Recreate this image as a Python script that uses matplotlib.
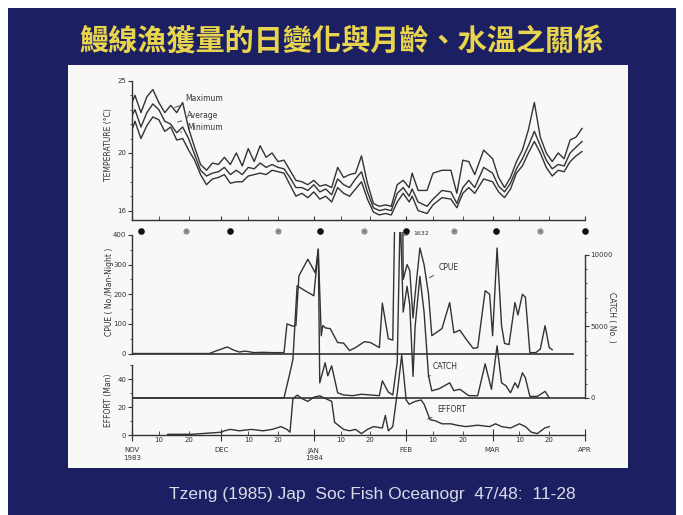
import numpy as np
import matplotlib.pyplot as plt
from matplotlib.patches import Rectangle

W, H = 683, 515

# day 0 = 1 Nov 1983, day 152 = 1 Apr 1984
temp_day = [0, 1, 3, 5, 7, 9, 11, 13, 15, 17,
            19, 21, 23, 25, 27, 29, 31, 33, 35, 37,
            39, 41, 43, 45, 47, 49, 51, 53, 55, 57,
            59, 61, 63, 65, 67, 69, 71, 73, 75, 77,
            79, 81, 83, 85, 87, 89, 91, 93, 94, 96,
            99, 101, 104, 107, 109, 111, 113, 115, 118, 121,
            123, 125, 127, 129, 131, 133, 135, 137, 139, 141,
            143, 145, 147, 149, 151]
t_max = [23.5, 24.0, 22.8, 23.9, 24.4, 23.5, 22.8, 23.3, 22.8, 23.5,
         21.7, 20.4, 19.2, 18.8, 19.3, 19.2, 19.7, 19.2, 20.0, 19.1,
         20.3, 19.4, 20.5, 19.7, 20.0, 19.4, 19.5, 18.8, 18.1, 18.0,
         17.8, 18.1, 17.7, 17.8, 17.6, 19.0, 18.3, 18.5, 18.6, 19.8,
         17.9, 16.5, 16.3, 16.4, 16.3, 17.8, 18.1, 17.6, 18.6, 17.4,
         17.4, 18.6, 18.8, 18.8, 17.2, 19.5, 19.4, 18.5, 20.2, 19.6,
         18.3, 17.6, 18.3, 19.4, 20.2, 21.6, 23.5, 21.1, 20.0, 19.4,
         20.0, 19.6, 20.9, 21.1, 21.7]
t_avg = [22.6, 23.0, 21.8, 22.8, 23.4, 23.0, 22.2, 22.0, 21.4, 21.8,
         21.0, 19.9, 18.8, 18.4, 18.6, 18.7, 19.0, 18.5, 18.8, 18.5,
         19.0, 18.9, 19.3, 19.0, 19.2, 19.0, 18.9, 18.3, 17.6, 17.6,
         17.4, 17.8, 17.3, 17.5, 17.1, 18.2, 17.8, 17.6, 18.2, 18.7,
         17.3, 16.2, 16.0, 16.1, 16.0, 17.2, 17.6, 17.0, 17.5, 16.6,
         16.3, 16.8, 17.4, 17.3, 16.5, 17.6, 18.1, 17.6, 19.0, 18.6,
         17.7, 17.3, 17.9, 18.9, 19.6, 20.5, 21.5, 20.5, 19.5, 18.9,
         19.2, 19.1, 20.0, 20.4, 20.8]
t_min = [21.6, 22.2, 21.0, 21.9, 22.5, 22.3, 21.5, 21.8, 20.9, 21.0,
         20.2, 19.5, 18.5, 17.8, 18.2, 18.3, 18.5, 17.9, 18.0, 18.0,
         18.4, 18.5, 18.6, 18.5, 18.8, 18.7, 18.6, 17.8, 17.0, 17.2,
         16.9, 17.3, 16.8, 17.0, 16.6, 17.6, 17.2, 17.0, 17.5, 18.0,
         16.8, 15.9, 15.7, 15.8, 15.7, 16.6, 17.2, 16.6, 17.0, 16.0,
         15.8, 16.4, 16.9, 16.8, 16.2, 17.2, 17.6, 17.2, 18.2, 18.0,
         17.3, 16.9, 17.5, 18.6, 19.1, 20.0, 20.8, 20.0, 19.0, 18.4,
         18.8, 18.7, 19.4, 19.8, 20.1]

cpue_day = [0, 26, 28, 30, 32, 34, 36, 38, 41, 44,
            47, 51, 52, 54, 55, 56, 59, 61.5, 62.5, 63.5,
            64, 65, 66.5, 69, 71, 73, 75, 78, 80, 83,
            84, 86, 87.5, 90, 91, 92.3, 93.2, 94.3, 95, 96.6,
            98, 99.5, 100.6, 102, 104, 106.6, 108, 110, 112, 114.5,
            116, 118.5, 120, 121, 122.5, 124, 125, 126.5, 128.5, 129.5,
            131, 132, 133.5, 135.5, 137, 138.6, 140, 141]
cpue = [0, 0, 8, 15, 22, 12, 5, 8, 3, 4,
        3, 3, 100, 92, 95, 262, 318, 272, 352, 60,
        94, 86, 84, 37, 35, 10, 20, 40, 37, 20,
        170, 50, 45, 1632, 250, 300, 280, 120, 200, 356,
        300, 200, 60, 70, 84, 172, 70, 79, 50, 17,
        20, 212, 200, 60, 356, 94, 34, 30, 172, 130,
        200, 190, 3, 3, 15, 94, 20, 13]

catch_day = [0, 51, 53, 54, 55.4, 58, 61, 62.5, 63, 64.8,
             65.7, 67, 69, 71, 74, 77, 80, 83, 84, 86,
             87.5, 89, 90, 91, 92.3, 93.2, 94.3, 95, 96.6, 98,
             99.5, 100.6, 103, 106.6, 108, 110, 113, 116, 118.5, 120.6,
             122.5, 124, 125.5, 127, 128.5, 129.5, 131, 132, 133.5, 136,
             138.6, 140]
catch = [0, 0, 1750, 2700, 7840, 7500, 7140, 10400, 1050, 2450,
         1540, 2240, 350, 200, 150, 250, 200, 150, 1190, 400,
         200, 2500, 13000, 6000, 7800, 6500, 1500, 5000, 8500, 6000,
         1540, 490, 630, 1050, 500, 600, 150, 150, 2380, 600,
         3640, 1050, 840, 350, 1050, 700, 1750, 1400, 100, 100,
         450, 0]

effort_day = [12, 20, 30, 31, 33, 36, 40, 44, 47, 50,
              52, 53, 54, 55.5, 57, 59, 61, 63, 65, 67,
              68, 71, 73, 75, 77, 79, 81, 84, 85, 86,
              87.5, 89, 90.5, 92, 93, 95, 97, 98, 100, 102,
              104, 107, 109, 112, 116, 120, 122, 124, 127, 130,
              132, 134, 136, 138.5, 140]
effort = [0.5, 0.5, 2, 3, 4, 3, 4, 3, 4, 6,
          4, 2, 26, 28.5, 26, 24, 27, 28, 26, 24,
          9, 4, 3, 4, 1, 4, 6, 5, 14, 3,
          6, 30, 57, 25, 22, 24, 25, 22, 11, 10,
          8, 8, 7, 6, 7, 6, 8, 6, 5, 8,
          6, 2, 1, 5, 6]

new_moon = [3, 33, 63, 92, 122, 152]
full_moon = [18, 49, 78, 108, 137]

month_day = [0, 30, 61, 92, 121, 152]
month_lab = ['NOV\n1983', 'DEC', 'JAN\n1984', 'FEB', 'MAR', 'APR']
mid_day = [9, 19, 39, 49, 70, 80, 101, 111, 130, 140]
mid_lab = ['10', '20'] * 5

title = '鰻線漁獲量的日變化與月齡、水溫之關係'
source = 'Tzeng (1985) Jap  Soc Fish Oceanogr  47/48:  11-28'

ink = '#333333'
fs = 5

fig = plt.figure(figsize=(W / 100, H / 100), dpi=100)
fig.patch.set_facecolor('white')


def fx(x):
    return x / W


def fy(y):
    return 1 - y / H


def px_axes(x0, y0, x1, y1):
    return fig.add_axes([fx(x0), fy(y1), (x1 - x0) / W, (y1 - y0) / H])


# slide background + white figure card
fig.patches.append(Rectangle((fx(8), 0), 668 / W, fy(8), transform=fig.transFigure,
                             facecolor='#1c2062', edgecolor='none', zorder=-3))
fig.patches.append(Rectangle((fx(68), fy(468)), (628 - 68) / W, (468 - 65) / H,
                             transform=fig.transFigure, facecolor='#f8f8f6',
                             edgecolor='none', zorder=-2))

fig.text(fx(342), fy(42), title, ha='center', va='center', fontsize=21,
         color='#e8d44d', fontweight='bold', family=['Noto Sans CJK TC', 'DejaVu Sans'])
fig.text(fx(372), fy(495), source, ha='center', va='center', fontsize=12.5,
         color='#d9dbe8', family=['Liberation Sans', 'DejaVu Sans'])

# temperature panel
ax_t = px_axes(132, 78, 585, 220)
ax_t.set_facecolor('none')
for lab, y in (('Maximum', t_max), ('Average', t_avg), ('Minimum', t_min)):
    ax_t.plot(temp_day, y, color=ink, lw=1.0)
ax_t.set_xlim(0, 152)
ax_t.set_ylim(15.35, 25.2)
ax_t.spines[['top', 'right']].set_visible(False)
ax_t.spines['left'].set_bounds(15.35, 25)
for s in ax_t.spines.values():
    s.set_color(ink)
    s.set_linewidth(1.0)
ax_t.set_yticks([16, 20, 25])
ax_t.set_yticks(range(17, 25), minor=True)
ax_t.set_xticks(month_day)
ax_t.set_xticks(mid_day, minor=True)
ax_t.tick_params(axis='x', which='both', direction='in', length=3, labelbottom=False, color=ink)
ax_t.tick_params(axis='y', which='major', length=3, labelsize=fs, pad=1, colors=ink)
ax_t.tick_params(axis='y', which='minor', length=1.5, color=ink)

lead = dict(arrowstyle='-', color=ink, lw=0.6)
ax_t.annotate('Maximum', xy=(13.4, 23.1), xytext=(18, 23.8), fontsize=5.5,
              color=ink, va='center', arrowprops=lead)
ax_t.annotate('Average', xy=(14.4, 22.1), xytext=(18.5, 22.6), fontsize=5.5,
              color=ink, va='center', arrowprops=lead)
ax_t.annotate('Minimum', xy=(15.4, 21.4), xytext=(18.5, 21.8), fontsize=5.5,
              color=ink, va='center', arrowprops=lead)
fig.text(fx(109), fy(145), 'TEMPERATURE (°C)', rotation=90, ha='center', va='center',
         fontsize=5.5, color=ink)

# moon phase row
ax_m = px_axes(132, 225, 585, 237)
ax_m.set_xlim(0, 152)
ax_m.set_ylim(-1, 1)
ax_m.axis('off')
ax_m.scatter(new_moon, [0] * len(new_moon), s=14, color='#111111', clip_on=False)
ax_m.scatter(full_moon, [0] * len(full_moon), s=12, facecolor='white',
             edgecolor='#777777', lw=0.8, clip_on=False)
ax_m.scatter(full_moon, [0] * len(full_moon), s=1.5, color='#777777', clip_on=False)

# catch / cpue / effort panel
ax_e = px_axes(132, 232, 585, 435)
ax_e.set_facecolor('none')
ax_e.plot(effort_day, effort, color=ink, lw=1.0)
ax_e.set_xlim(0, 152)
ax_e.set_ylim(0, 145)
ax_e.spines[['top', 'right']].set_visible(False)
ax_e.spines['left'].set_bounds(0, 50)
ax_e.set_yticks([0, 20, 40])
ax_e.set_yticks([10, 30, 50], minor=True)
ax_e.set_xticks(month_day, labels=month_lab)
ax_e.set_xticks(mid_day, labels=mid_lab, minor=True)
ax_e.tick_params(axis='x', which='major', direction='inout', length=8, pad=5,
                 labelsize=fs, color=ink, labelcolor=ink)
ax_e.tick_params(axis='x', which='minor', direction='in', length=3, pad=1.5,
                 labelsize=fs, color=ink, labelcolor=ink)
ax_e.tick_params(axis='y', which='major', length=3, pad=1, labelsize=fs, colors=ink)
ax_e.tick_params(axis='y', which='minor', length=1.5, color=ink)

ax_cp = ax_e.twinx()
ax_cp.plot(cpue_day, cpue, color=ink, lw=1.0)
ax_cp.axhline(0, xmax=148 / 152, color=ink, lw=1.2)
ax_cp.set_ylim(-275, 410)
ax_cp.yaxis.tick_left()
ax_cp.spines[['top', 'right', 'bottom']].set_visible(False)
ax_cp.spines['left'].set_visible(True)
ax_cp.spines['left'].set_bounds(0, 400)
ax_cp.set_yticks([0, 100, 200, 300, 400])
ax_cp.set_yticks(range(50, 400, 100), minor=True)
ax_cp.tick_params(axis='y', which='major', length=3, pad=1, labelsize=fs, colors=ink)
ax_cp.tick_params(axis='y', which='minor', length=1.5, color=ink)

ax_ca = ax_e.twinx()
ax_ca.plot(catch_day, catch, color=ink, lw=1.0)
ax_ca.axhline(0, color=ink, lw=1.2)
ax_ca.set_ylim(-2600, 11600)
ax_ca.spines[['top', 'left', 'bottom']].set_visible(False)
ax_ca.spines['right'].set_bounds(0, 10000)
ax_ca.set_yticks([0, 5000, 10000])
ax_ca.set_yticks([v for v in range(1000, 10000, 1000) if v != 5000], minor=True)
ax_ca.tick_params(axis='y', which='major', length=3, pad=1, labelsize=fs, colors=ink)
ax_ca.tick_params(axis='y', which='minor', length=1.5, color=ink)

for a in (ax_e, ax_cp, ax_ca):
    for s in a.spines.values():
        s.set_color(ink)
        s.set_linewidth(1.0)

ax_cp.annotate('1632', xy=(90, 398), xytext=(94.5, 405), fontsize=4.5, color=ink,
               va='center', arrowprops=lead, annotation_clip=False)
ax_cp.annotate('CPUE', xy=(99, 252), xytext=(103, 289), fontsize=5.5, color=ink,
               va='center', arrowprops=lead)
ax_ca.annotate('CATCH', xy=(99.3, 1470), xytext=(101, 2170), fontsize=5.5, color=ink,
               va='center', arrowprops=lead)
ax_e.annotate('EFFORT', xy=(98.3, 10.7), xytext=(102.5, 17.9), fontsize=5.5, color=ink,
              va='center', arrowprops=lead)

fig.text(fx(109), fy(292), 'CPUE ( No./Man-Night )', rotation=90, ha='center',
         va='center', fontsize=5.5, color=ink)
fig.text(fx(109), fy(400), 'EFFORT (Man)', rotation=90, ha='center', va='center',
         fontsize=5.5, color=ink)
fig.text(fx(612), fy(317), 'CATCH ( No. )', rotation=-90, ha='center', va='center',
         fontsize=5.5, color=ink)

fig.savefig('out.png', dpi=100)
